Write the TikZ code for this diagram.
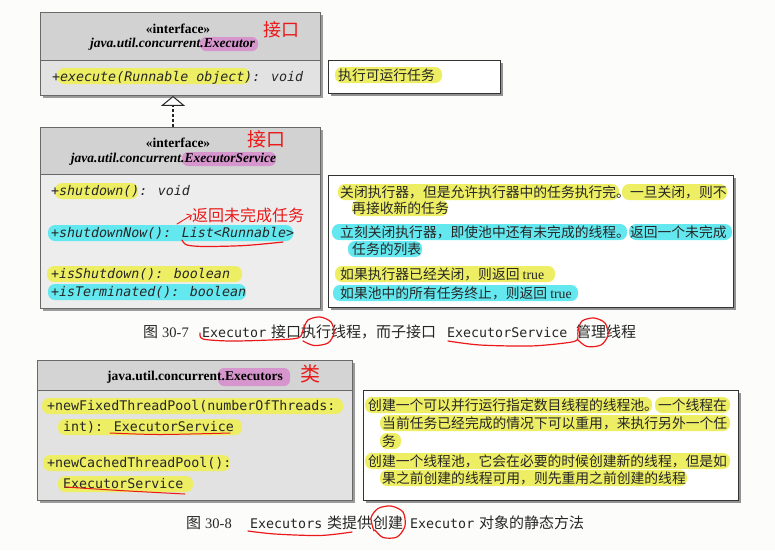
\documentclass[tikz,border=0pt]{standalone}
\usepackage{fontspec}
\setmainfont{Liberation Serif}
\newfontfamily\cjk{Noto Sans CJK SC}
\newfontfamily\umlmono{DejaVu Sans Mono}
\usetikzlibrary{arrows.meta,shadows,calc}

\definecolor{hlyellow}{RGB}{238,238,100}
\definecolor{hlcyan}{RGB}{100,232,240}
\definecolor{hlpink}{RGB}{214,150,205}
\definecolor{headgray}{RGB}{210,210,210}
\definecolor{bodygray}{RGB}{226,226,226}
\definecolor{bodylight}{RGB}{237,237,237}
\definecolor{boxline}{RGB}{105,105,105}
\definecolor{inkred}{RGB}{235,25,25}
\definecolor{paper}{RGB}{252,252,250}

\tikzset{
  umlouter/.style={draw=boxline, line width=0.9pt, anchor=north west, inner sep=0pt,
    drop shadow={shadow xshift=2.5pt, shadow yshift=-2.5pt, fill=black!55, opacity=0.7}},
  umlhead/.style={draw=boxline, line width=0.9pt, fill=headgray, anchor=north west, inner sep=0pt},
  notebox/.style={draw=black!80, line width=0.9pt, fill=white, anchor=north west, inner sep=0pt,
    drop shadow={shadow xshift=2.5pt, shadow yshift=-2.5pt, fill=black!60, opacity=0.7}},
  stereo/.style={font=\fontsize{13.5}{16}\selectfont\bfseries, inner sep=0pt},
  classname/.style={font=\fontsize{13.5}{16}\selectfont\bfseries\itshape, inner sep=0pt},
  classplain/.style={font=\fontsize{13.5}{16}\selectfont\bfseries, inner sep=0pt},
  opit/.style={font=\umlmono\fontsize{13.3}{16}\selectfont\itshape, anchor=base west, inner sep=0pt, text=black!85},
  opup/.style={font=\umlmono\fontsize{13.3}{16}\selectfont, anchor=base west, inner sep=0pt, text=black!85},
  notetext/.style={font=\cjk\fontsize{13.8}{16}\selectfont, anchor=base west, inner sep=0pt, text=black!85},
  captext/.style={font=\cjk\fontsize{15}{17}\selectfont, anchor=base west, inner sep=0pt, text=black!85},
  capnum/.style={font=\fontsize{14.5}{17}\selectfont, anchor=base west, inner sep=0pt, text=black!85},
  capmono/.style={font=\umlmono\fontsize{13.3}{16}\selectfont, anchor=base west, inner sep=0pt, text=black!85},
  ink/.style={draw=inkred, line width=1.2pt, line cap=round, line join=round},
  inktext/.style={font=\cjk\fontsize{16}{18}\selectfont, text=inkred, inner sep=0pt},
  hly/.style={fill=hlyellow, rounded corners=7pt},
  hlc/.style={fill=hlcyan, rounded corners=7pt},
  hlp/.style={fill=hlpink, rounded corners=6pt},
}

\begin{document}
\begin{tikzpicture}[x=1pt,y=-1pt]
  % page
  \fill[paper] (0,0) rectangle (775,550);
  \useasboundingbox (0,0) rectangle (775,550);

  % ---------- class boxes ----------
  \node[umlouter, fill=bodygray, minimum width=280pt, minimum height=83pt] (exec) at (40,12) {};
  \node[umlhead, minimum width=280pt, minimum height=48pt] (exechead) at (exec.north west) {};

  \node[umlouter, fill=bodylight, minimum width=280pt, minimum height=181pt] (svc) at (40,127) {};
  \node[umlhead, minimum width=280pt, minimum height=47pt] (svchead) at (svc.north west) {};

  \node[umlouter, fill=bodygray, minimum width=315pt, minimum height=140pt] (pool) at (37,360) {};
  \node[umlhead, fill=headgray!95!white, minimum width=315pt, minimum height=30pt] (poolhead) at (pool.north west) {};

  % ---------- notes ----------
  \node[notebox, minimum width=172pt, minimum height=33pt] (note1) at (328,60) {};
  \node[notebox, minimum width=405pt, minimum height=132pt] (note2) at (328,175) {};
  \node[notebox, minimum width=375pt, minimum height=110pt] (note3) at (363,390) {};

  % ---------- generalization ----------
  \coordinate (gx) at (173,0);
  \draw[black!85, line width=1.4pt, dash pattern=on 3pt off 2pt,
        -{Triangle[length=10pt, width=24pt, fill=white, line width=1pt]}]
        (svc.north -| gx) -- (exec.south -| gx);

  % ---------- highlights ----------
  \fill[hlp] (200,37) rectangle (258,51);
  \fill[hlp] (182,152) rectangle (276,166);
  \fill[hlp] (218,368) rectangle (290,386);

  \fill[hly] (57,68) rectangle (250,84);
  \fill[hly] (55,183) rectangle (138,199);
  \fill[hlc] (48,225) rectangle (293,241);
  \fill[hly] (47,266) rectangle (242,282);
  \fill[hlc] (48,284) rectangle (246,300);

  \fill[hly] (42,398) rectangle (343,414);
  \fill[hly] (58,419) rectangle (242,435);
  \fill[hly] (43,455) rectangle (230,471);
  \fill[hly] (58,476) rectangle (193,492);

  \fill[hly] (335,67) rectangle (442,83);

  \fill[hly] (338,184) rectangle (619,200);
  \fill[hly] (622,184) rectangle (727,200);
  \fill[hly] (352,200) rectangle (448,216);
  \fill[hlc] (332,224) rectangle (627,240);
  \fill[hlc] (629,224) rectangle (732,240);
  \fill[hlc] (348,241) rectangle (422,257);
  \fill[hly] (335,266) rectangle (555,282);
  \fill[hlc] (333,285) rectangle (578,301);

  \fill[hly] (365,397) rectangle (652,413);
  \fill[hly] (655,397) rectangle (730,413);
  \fill[hly] (380,415) rectangle (730,431);
  \fill[hly] (380,433) rectangle (401,449);
  \fill[hly] (365,453) rectangle (730,469);
  \fill[hly] (380,470) rectangle (687,486);

  % ---------- class texts ----------
  \node[stereo] (execst) at (178,29) {«interface»};
  \node[classname] (execname) at (172.5,44) {java.util.concurrent.Executor};
  \node[opit] (execop) at (52,81.5) {+execute(Runnable object): void};

  \node[stereo] (svcst) at (178,143) {«interface»};
  \node[classname] (svcname) at (173.5,159) {java.util.concurrent.ExecutorService};
  \node[opit] (svcop1) at (51,195.5) {+shutdown(): void};
  \node[opit] (svcop2) at (51,237.5) {+shutdownNow(): List<Runnable>};
  \node[opit] (svcop3) at (51,278.5) {+isShutdown(): boolean};
  \node[opit] (svcop4) at (51,296.5) {+isTerminated(): boolean};

  \node[classplain] (poolname) at (195,377) {java.util.concurrent.Executors};
  \node[opup] (poolop1) at (47,410.5) {+newFixedThreadPool(numberOfThreads:};
  \node[opup] (poolop1b) at (63,431.5) {int): ExecutorService};
  \node[opup] (poolop2) at (47,467.5) {+newCachedThreadPool():};
  \node[opup] (poolop2b) at (63,488.5) {ExecutorService};

  % ---------- note texts ----------
  \node[notetext] (n1a) at (338,80) {执行可运行任务};

  \node[notetext] (n2a) at (340,197) {关闭执行器，但是允许执行器中的任务执行完。一旦关闭，则不};
  \node[notetext] (n2b) at (352,213) {再接收新的任务};
  \node[notetext] (n2c) at (340,237) {立刻关闭执行器，即使池中还有未完成的线程。返回一个未完成};
  \node[notetext] (n2d) at (352,254) {任务的列表};
  \node[notetext] (n2e) at (340,279) {如果执行器已经关闭，则返回 {\rmfamily true}};
  \node[notetext] (n2f) at (340,298) {如果池中的所有任务终止，则返回 {\rmfamily true}};

  \node[notetext] (n3a) at (368,410) {创建一个可以并行运行指定数目线程的线程池。一个线程在};
  \node[notetext] (n3b) at (382,428) {当前任务已经完成的情况下可以重用，来执行另外一个任};
  \node[notetext] (n3c) at (382,446) {务};
  \node[notetext] (n3d) at (368,466) {创建一个线程池，它会在必要的时候创建新的线程，但是如};
  \node[notetext] (n3e) at (382,483) {果之前创建的线程可用，则先重用之前创建的线程};

  % ---------- captions ----------
  \node[captext] (c1fig) at (143,337.5) {图};
  \node[capnum] (c1num) at (162,337.5) {30-7};
  \node[capmono] (c1a) at (202,337.5) {Executor};
  \node[captext] (c1b) at (271,337.5) {接口执行线程，而子接口};
  \node[capmono] (c1c) at (447,337.5) {ExecutorService};
  \node[captext] (c1d) at (576,337.5) {管理线程};

  \node[captext] (c2fig) at (186,528.5) {图};
  \node[capnum] (c2num) at (205,528.5) {30-8};
  \node[capmono] (c2a) at (250,528.5) {Executors};
  \node[captext] (c2b) at (327,528.5) {类提供};
  \node[captext] (c2c) at (373,528.5) {创建};
  \node[capmono] (c2d) at (410,528.5) {Executor};
  \node[captext] (c2e) at (479,528.5) {对象的静态方法};

  % ---------- handwritten marks ----------
  \node[inktext, font=\cjk\fontsize{18}{20}\selectfont] (ink1) at (281,30) {接口};
  \node[inktext, font=\cjk\fontsize{19}{20}\selectfont] (ink2) at (266,139) {接口};
  \node[inktext] (ink3) at (248,215) {返回未完成任务};
  \node[inktext, font=\cjk\fontsize{20}{22}\selectfont] (ink4) at (310,374) {类};

  \coordinate (inkfrom) at (177,224);
  \draw[ink, line width=0.9pt, -{Straight Barb[length=3.5pt]}] (inkfrom) -- (ink3.west);

  \draw[ink] plot[smooth] coordinates {(182,240) (187,245) (205,246.5) (245,245.5) (283,242)};
  \draw[ink, line width=1pt] plot[smooth] coordinates {(110,433) (160,434.5) (230,433)};
  \draw[ink, line width=1pt] plot[smooth] coordinates {(65,487) (120,490.5) (185,494)};

  \draw[ink] plot[smooth] coordinates {(200,333) (203,339) (230,341) (270,340) (298,338)
     (303,330) (308,320) (320,317) (331,322) (334,333) (328,343) (314,345.5) (303,341)};
  \draw[ink] plot[smooth] coordinates {(448,341) (480,345) (530,346) (565,343) (577,340)
     (578,331) (582,321) (594,318) (605,323) (608,335) (601,345) (587,346.5) (578,340)};
  \draw[ink] plot[smooth] coordinates {(248,531) (275,534) (320,535.5) (352,532)};
  \draw[ink] plot[smooth] coordinates {(374,531) (371,518) (378,508.5) (391,506) (403,512)
     (405,526) (397,537) (383,537.5) (375,530)};
\end{tikzpicture}
\end{document}
